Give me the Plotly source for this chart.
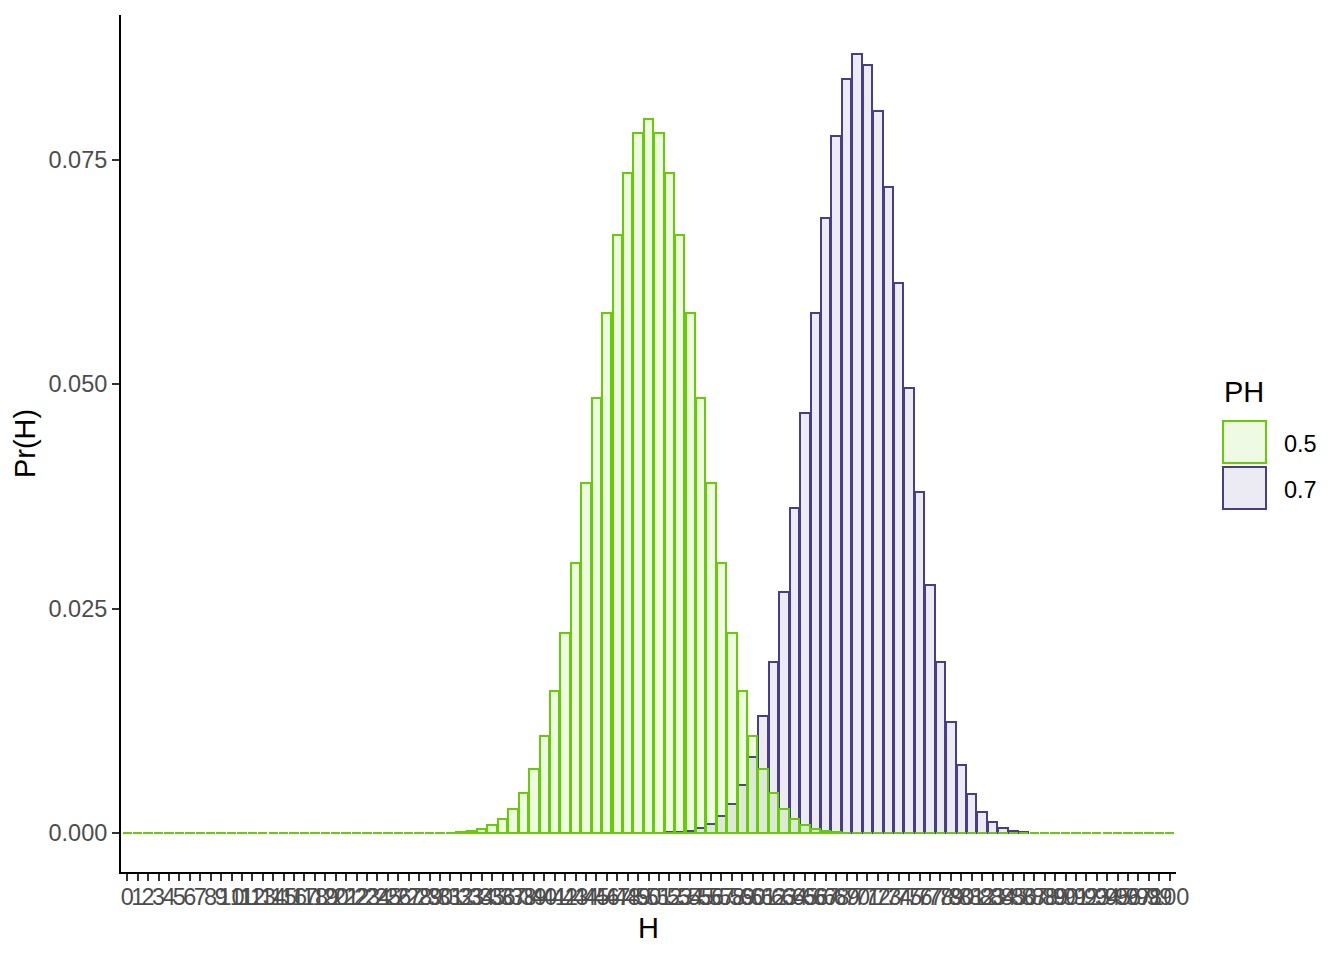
import plotly.graph_objects as go

H = list(range(0, 101))
tick_labels = [str(h) for h in H]

pr_05 = [
    0, 0, 0, 0, 0, 0, 0, 0, 0, 0,
    0, 0, 0, 0, 0, 0, 0, 0, 0, 0,
    0, 0, 0, 0, 0, 0, 0, 0.000002, 0.000004, 0.000010,
    0.000023, 0.000052, 0.000113, 0.000232, 0.000458, 0.000864, 0.001560, 0.002698, 0.004473, 0.007111,
    0.010844, 0.015869, 0.022292, 0.030069, 0.038953, 0.048474, 0.057958, 0.066590, 0.073527, 0.078029,
    0.079589, 0.078029, 0.073527, 0.066590, 0.057958, 0.048474, 0.038953, 0.030069, 0.022292, 0.015869,
    0.010844, 0.007111, 0.004473, 0.002698, 0.001560, 0.000864, 0.000458, 0.000232, 0.000113, 0.000052,
    0.000023, 0.000010, 0.000004, 0.000002, 0, 0, 0, 0, 0, 0,
    0, 0, 0, 0, 0, 0, 0, 0, 0, 0,
    0, 0, 0, 0, 0, 0, 0, 0, 0, 0,
    0,
]

pr_07 = [
    0, 0, 0, 0, 0, 0, 0, 0, 0, 0,
    0, 0, 0, 0, 0, 0, 0, 0, 0, 0,
    0, 0, 0, 0, 0, 0, 0, 0, 0, 0,
    0, 0, 0, 0, 0, 0, 0, 0, 0, 0,
    0, 0, 0, 0, 0, 0, 0, 0, 0.000002, 0.000006,
    0.000013, 0.000030, 0.000066, 0.000138, 0.000281, 0.000549, 0.001029, 0.001853, 0.003206, 0.005325,
    0.008490, 0.012991, 0.019067, 0.026835, 0.036199, 0.046780, 0.057884, 0.068539, 0.077610, 0.083984,
    0.086784, 0.085561, 0.080412, 0.071967, 0.061269, 0.049560, 0.038040, 0.027665, 0.019034, 0.012368,
    0.007575, 0.004364, 0.002360, 0.001194, 0.000564, 0.000248, 0.000101, 0.000038, 0.000013, 0.000004,
    0.000001, 0, 0, 0, 0, 0, 0, 0, 0, 0,
    0,
]

series_names = ["0.5", "0.7"]
line_colors = {"0.5": "#66CD00", "0.7": "#483D8B"}
fill_colors = {"0.5": "rgba(102,205,0,0.1)", "0.7": "rgba(72,61,139,0.1)"}
y_ticks = [0, 0.025, 0.05, 0.075]

FONT = "Liberation Sans, Arial, sans-serif"

fig = go.Figure()
# purple first, green drawn on top
for name, vals in [("0.7", pr_07), ("0.5", pr_05)]:
    fig.add_trace(go.Bar(
        x=H, y=vals, name=name, width=0.9,
        marker=dict(color=fill_colors[name],
                    line=dict(color=line_colors[name], width=2)),
        showlegend=False,
    ))

ymax = max(max(pr_05), max(pr_07))
pad = ymax * 0.05

shapes = [
    # zero-height bar outlines (drawn as dashes along the baseline)
    dict(type="line", xref="x", yref="y", x0=-0.355, x1=100.355, y0=0, y1=0,
         line=dict(color=line_colors["0.5"], width=2, dash="7.4px,3.025px"), layer="above"),
    # legend keys
    dict(type="rect", xref="paper", yref="paper", x0=1.04455, x1=1.08531, y0=0.47725, y1=0.52625,
         line=dict(color=line_colors["0.5"], width=2), fillcolor=fill_colors["0.5"]),
    dict(type="rect", xref="paper", yref="paper", x0=1.04455, x1=1.08531, y0=0.42357, y1=0.47258,
         line=dict(color=line_colors["0.7"], width=2), fillcolor=fill_colors["0.7"]),
]

annotations = [
    dict(text="PH", xref="paper", yref="paper", x=1.0436, y=0.5601, xanchor="left", yanchor="middle",
         showarrow=False, font=dict(size=29, color="black", family=FONT)),
    dict(text=series_names[0], xref="paper", yref="paper", x=1.1005, y=0.4994, xanchor="left", yanchor="middle",
         showarrow=False, font=dict(size=23.5, color="black", family=FONT)),
    dict(text=series_names[1], xref="paper", yref="paper", x=1.1005, y=0.4457, xanchor="left", yanchor="middle",
         showarrow=False, font=dict(size=23.5, color="black", family=FONT)),
]

# page body adds an 8px offset, so the figure is sized/margined to compensate
fig.update_layout(
    width=1336, height=952,
    margin=dict(l=113, r=168, t=7, b=88),
    paper_bgcolor="white", plot_bgcolor="white",
    barmode="overlay", bargap=0,
    font=dict(family=FONT, color="black"),
    shapes=shapes, annotations=annotations,
    showlegend=False,
)
fig.update_xaxes(
    range=[-0.6, 100.6], tickmode="array", tickvals=H, ticktext=tick_labels, tickangle=0,
    showline=True, linecolor="black", linewidth=2, showgrid=False, zeroline=False,
    ticks="outside", ticklen=7, tickwidth=2, tickcolor="#333333",
    tickfont=dict(size=23.5, color="#4D4D4D", family=FONT),
    ticklabelstandoff=-4,
    title=dict(text="H", font=dict(size=29, color="black", family=FONT), standoff=8),
)
fig.update_yaxes(
    range=[-pad, ymax + pad], tickmode="array", tickvals=y_ticks,
    ticktext=["%.3f" % v for v in y_ticks],
    showline=True, linecolor="black", linewidth=2, showgrid=False, zeroline=False,
    ticks="outside", ticklen=7, tickwidth=2, tickcolor="#333333",
    tickfont=dict(size=23.5, color="#4D4D4D", family=FONT),
    title=dict(text="Pr(H)", font=dict(size=29, color="black", family=FONT), standoff=4),
)

fig.write_html("out.html")
